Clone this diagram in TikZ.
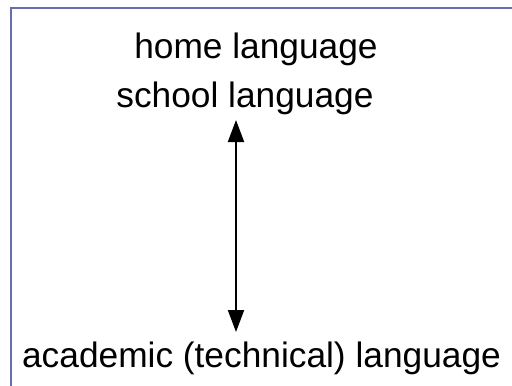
\documentclass[tikz,border=0pt]{standalone}
\usepackage{fontspec}
\setmainfont{Liberation Sans}
\usetikzlibrary{arrows.meta}
\definecolor{frame}{RGB}{102,110,176}
\tikzset{
  lbl/.style={anchor=base, inner sep=0pt, font=\fontsize{35.3}{40}\selectfont},
  arr/.style={line width=2pt, {Triangle[length=22pt,width=16pt]}-{Triangle[length=22pt,width=16pt]}}
}
\begin{document}
\begin{tikzpicture}[x=1pt,y=1pt]
\useasboundingbox (0,0) rectangle (512,-386);
\begin{scope}
\clip (0,0) rectangle (512,-386);
\draw[frame, line width=2pt] (11,-8) rectangle (540,-420);
\end{scope}
\node[lbl] (home) at (256,-58) {home language};
\node[lbl] (school) at (245,-107) {school language};
\node[lbl] (acad) at (261.5,-367) {academic (technical) language};
\coordinate (top) at (236,-120);
\coordinate (bot) at (236,-332);
\draw[arr] (top) -- (bot);
\end{tikzpicture}
\end{document}
